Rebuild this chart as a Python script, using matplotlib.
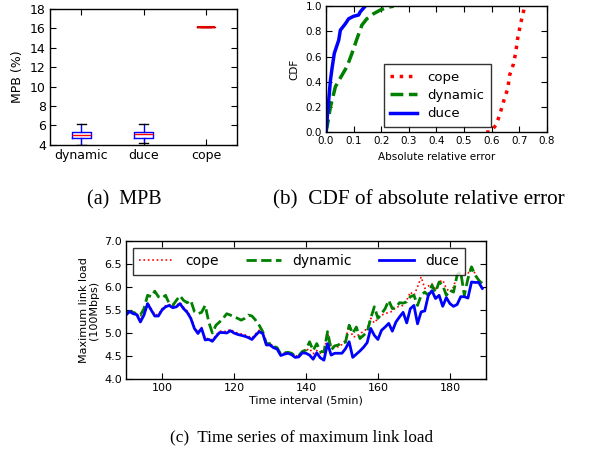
import matplotlib
matplotlib.use("Agg")
import matplotlib.pyplot as plt
import numpy as np

# ---------------- data ----------------
# (a) MPB box plot stats
box_labels = ["dynamic", "duce", "cope"]
box_whislo = [4.0, 4.22, 16.1]
box_q1 = [4.69, 4.69, 16.1]
box_med = [5.0, 5.08, 16.1]
box_q3 = [5.37, 5.37, 16.1]
box_whishi = [6.12, 6.12, 16.1]

# (b) CDF of absolute relative error
cope_err = [0.58, 0.595, 0.617, 0.631, 0.645, 0.659, 0.665, 0.679, 0.688, 0.694, 0.703, 0.713, 0.721]
cope_cdf = [0.0, 0.0, 0.058, 0.15, 0.256, 0.35, 0.45, 0.54, 0.64, 0.74, 0.84, 0.94, 1.0]
dyn_err = [0.0, 0.004, 0.016, 0.034, 0.052, 0.076, 0.094, 0.112, 0.13, 0.148, 0.172, 0.197, 0.22, 0.245]
dyn_cdf = [0.0, 0.045, 0.2, 0.36, 0.43, 0.52, 0.625, 0.74, 0.85, 0.9, 0.94, 0.97, 0.99, 1.0]
duce_err = [0.0, 0.01, 0.016, 0.022, 0.03, 0.046, 0.052, 0.07, 0.082, 0.1, 0.118, 0.124, 0.142]
duce_cdf = [0.0, 0.26, 0.41, 0.51, 0.625, 0.73, 0.81, 0.86, 0.9, 0.92, 0.93, 0.955, 1.0]

# (c) time series of maximum link load
t = list(range(90, 190))
duce_load = [5.39, 5.47, 5.42, 5.40, 5.24, 5.39, 5.64, 5.50, 5.37, 5.37,
             5.50, 5.57, 5.60, 5.55, 5.57, 5.64, 5.53, 5.45, 5.32, 5.10,
             4.99, 5.10, 4.85, 4.86, 4.82, 4.92, 5.01, 5.01, 5.00, 5.05,
             5.00, 4.97, 4.95, 4.93, 4.90, 4.86, 4.95, 5.03, 4.99, 4.74,
             4.74, 4.68, 4.65, 4.51, 4.54, 4.56, 4.53, 4.47, 4.48, 4.57,
             4.56, 4.52, 4.43, 4.57, 4.46, 4.41, 4.77, 4.52, 4.56, 4.56,
             4.56, 4.66, 4.81, 4.47, 4.54, 4.61, 4.69, 4.79, 5.10, 4.95,
             4.86, 5.06, 5.13, 5.21, 5.04, 5.24, 5.35, 5.45, 5.22, 5.53,
             5.60, 5.20, 5.46, 5.48, 5.82, 5.92, 5.75, 5.82, 5.58, 5.77,
             5.64, 5.58, 5.62, 5.79, 5.79, 5.76, 6.11, 6.10, 6.10, 5.97]
cope_load = [5.44, 5.49, 5.45, 5.43, 5.29, 5.42, 5.66, 5.53, 5.40, 5.40,
             5.53, 5.59, 5.62, 5.58, 5.60, 5.66, 5.56, 5.48, 5.35, 5.13,
             5.02, 5.12, 4.88, 4.88, 4.85, 4.95, 5.04, 5.04, 5.03, 5.08,
             5.03, 5.00, 4.98, 4.96, 4.93, 4.89, 4.98, 5.06, 5.02, 4.77,
             4.77, 4.71, 4.68, 4.54, 4.57, 4.58, 4.56, 4.50, 4.51, 4.60,
             4.62, 4.66, 4.55, 4.62, 4.56, 4.56, 5.00, 4.72, 4.70, 4.70,
             4.75, 4.85, 5.17, 4.92, 4.92, 4.99, 5.03, 5.10, 5.32, 5.22,
             5.32, 5.39, 5.42, 5.45, 5.47, 5.56, 5.58, 5.60, 5.71, 5.89,
             5.82, 6.00, 6.22, 5.97, 6.02, 6.07, 5.93, 6.11, 6.15, 5.97,
             5.89, 6.00, 6.26, 6.22, 6.29, 6.29, 6.44, 6.29, 6.15, 6.11]
dyn_load = [5.45, 5.46, 5.45, 5.42, 5.39, 5.53, 5.82, 5.79, 5.91, 5.79,
            5.76, 5.82, 5.64, 5.60, 5.71, 5.81, 5.71, 5.66, 5.71, 5.47,
            5.42, 5.45, 5.60, 5.24, 5.00, 5.17, 5.24, 5.32, 5.42, 5.39,
            5.35, 5.32, 5.28, 5.32, 5.39, 5.37, 5.28, 5.17, 5.03, 4.77,
            4.77, 4.71, 4.68, 4.54, 4.57, 4.58, 4.56, 4.50, 4.51, 4.60,
            4.63, 4.81, 4.62, 4.77, 4.60, 4.59, 5.03, 4.63, 4.72, 4.74,
            4.79, 4.80, 5.17, 4.99, 5.13, 4.88, 4.95, 5.02, 5.32, 5.57,
            5.32, 5.42, 5.53, 5.71, 5.53, 5.56, 5.66, 5.65, 5.68, 5.79,
            5.82, 5.60, 5.82, 5.89, 5.82, 6.04, 5.89, 6.11, 6.04, 5.82,
            5.93, 5.89, 6.26, 6.33, 5.82, 6.18, 6.44, 6.26, 6.15, 6.07]

# ---------------- figure ----------------
plt.rcParams['font.family'] = ['DejaVu Sans']
fig = plt.figure(figsize=(5.92, 4.66), dpi=100)

def style(ax, fs):
    ax.tick_params(direction='in', top=True, right=True, labelsize=fs, length=4, width=0.8, pad=3)
    for s in ax.spines.values():
        s.set_linewidth(1.0)

# (a)
ax1 = fig.add_axes([0.0845, 0.689, 0.316, 0.292])
stats = []
for i in range(3):
    stats.append(dict(label=box_labels[i], whislo=box_whislo[i], q1=box_q1[i], med=box_med[i],
                      q3=box_q3[i], whishi=box_whishi[i], fliers=[]))
ax1.bxp(stats[:2], positions=[1, 2], showfliers=False, widths=0.3,
        boxprops=dict(color='blue', linewidth=1.0),
        whiskerprops=dict(color='blue', linewidth=1.0, linestyle='-'),
        capprops=dict(color='black', linewidth=1.0),
        medianprops=dict(color='red', linewidth=1.0, zorder=5))
ax1.bxp(stats[2:], positions=[3], showfliers=False, widths=0.3,
        boxprops=dict(color='#cc0000', linewidth=1.0),
        whiskerprops=dict(color='#cc0000', linewidth=1.0, linestyle='-'),
        capprops=dict(color='#cc0000', linewidth=1.0),
        medianprops=dict(color='#dd0000', linewidth=1.5, zorder=5))
ax1.set_ylim(4, 18)
ax1.set_yticks(np.arange(4, 19, 2))
ax1.set_xlim(0.5, 3.5)
ax1.set_xticks([1, 2, 3])
ax1.set_xticklabels(box_labels)
ax1.set_ylabel("MPB (%)", fontsize=9)
style(ax1, 9)

# (b)
ax2 = fig.add_axes([0.5507, 0.7167, 0.373, 0.270])
ax2.plot(cope_err, cope_cdf, color='red', linestyle=':', linewidth=2.5, label='cope')
ax2.plot(dyn_err, dyn_cdf, color='green', linestyle='--', linewidth=2.5, label='dynamic')
ax2.plot(duce_err, duce_cdf, color='blue', linestyle='-', linewidth=2.5, label='duce')
ax2.set_xlim(0, 0.8)
ax2.set_ylim(0, 1.0)
ax2.set_xticks(np.arange(0, 0.81, 0.1))
ax2.set_yticks(np.arange(0, 1.01, 0.2))
ax2.set_xlabel("Absolute relative error", fontsize=7.5)
ax2.set_ylabel("CDF", fontsize=7.5)
style(ax2, 7.5)
leg2 = ax2.legend(loc='lower left', bbox_to_anchor=(0.262, 0.04), borderaxespad=0, fontsize=9.5,
                  frameon=True, fancybox=False, edgecolor='black', handlelength=2.0,
                  borderpad=0.5, labelspacing=0.4)
leg2.get_frame().set_linewidth(1.0)

# (c)
ax3 = fig.add_axes([0.2128, 0.1867, 0.608, 0.296])
ax3.plot(t, cope_load, color='red', linestyle=':', linewidth=1.2, label='cope')
ax3.plot(t, dyn_load, color='green', linestyle='--', linewidth=2.0, label='dynamic')
ax3.plot(t, duce_load, color='blue', linestyle='-', linewidth=2.0, label='duce')
ax3.set_xlim(90, 190)
ax3.set_ylim(4.0, 7.0)
ax3.set_xticks([100, 120, 140, 160, 180])
ax3.set_yticks(np.arange(4.0, 7.01, 0.5))
ax3.set_yticklabels([f"{v:.1f}" for v in np.arange(4.0, 7.01, 0.5)])
ax3.set_xlabel("Time interval (5min)", fontsize=8, labelpad=2)
ax3.set_ylabel("Maximum link load\n(100Mbps)", fontsize=8, linespacing=1.0)
style(ax3, 8)
leg3 = ax3.legend(loc='upper left', bbox_to_anchor=(0.02, 0.949, 0.922, 0.0), mode='expand', ncol=3,
                  borderaxespad=0, fontsize=10, frameon=True, fancybox=False, edgecolor='black',
                  handlelength=2.5, borderpad=0.45, columnspacing=1.5)
leg3.get_frame().set_linewidth(1.0)

# captions
serif = ['Liberation Serif']
fig.text(0.210, 0.571, "(a)  MPB", fontsize=14.5, family=serif, ha='center', va='center')
fig.text(0.708, 0.571, "(b)  CDF of absolute relative error", fontsize=15.3, family=serif, ha='center', va='center')
fig.text(0.510, 0.062, "(c)  Time series of maximum link load", fontsize=12.3, family=serif, ha='center', va='center')

fig.savefig("out.png", dpi=100)
